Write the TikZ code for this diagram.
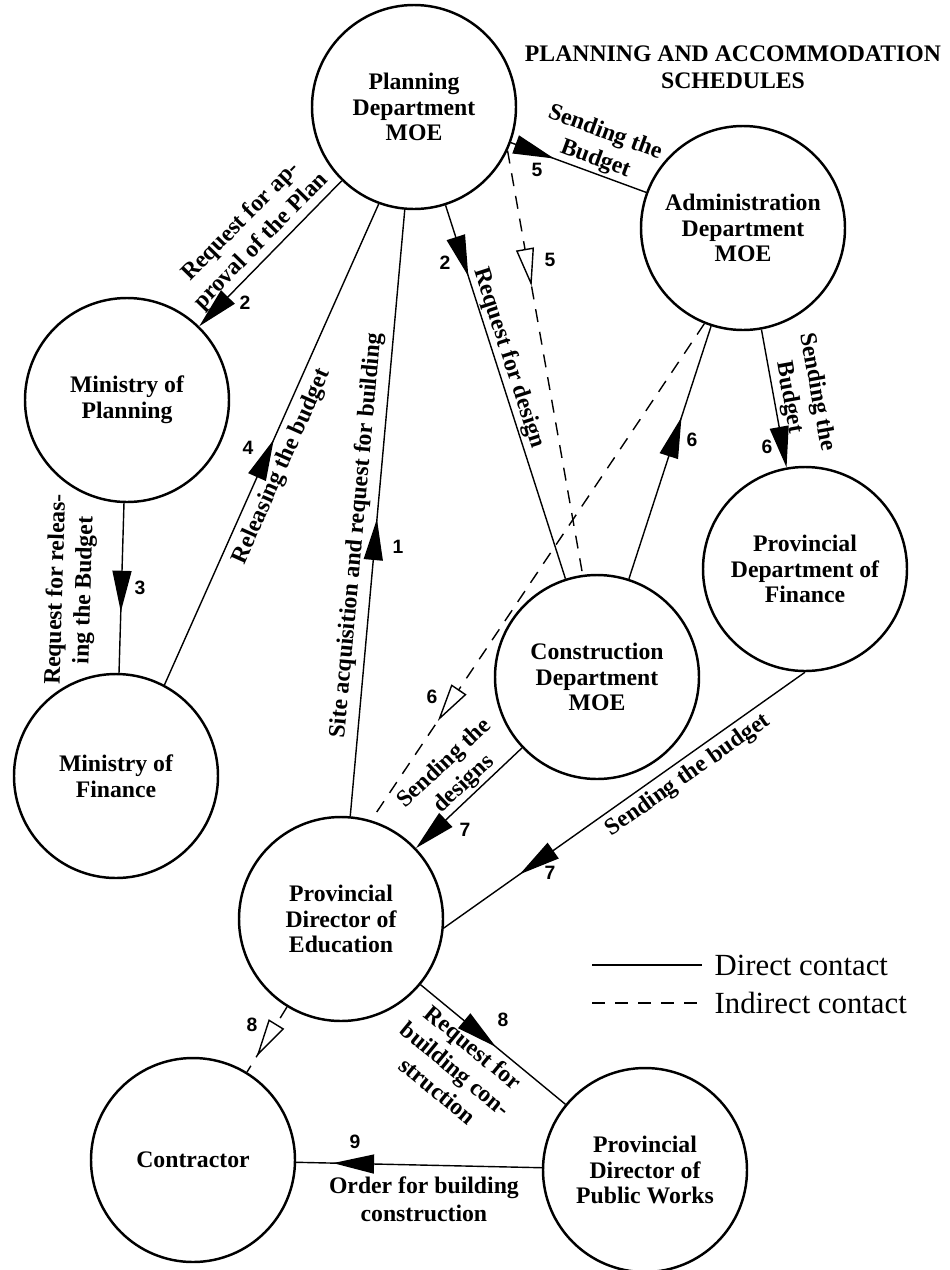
\documentclass[tikz,border=0pt]{standalone}
\usepackage{fontspec}
\setmainfont{Liberation Serif}
\newfontfamily\digitfont{Liberation Sans}
\usetikzlibrary{arrows.meta,decorations.markings}

\tikzset{
  office/.style={circle, draw, line width=1.4pt, minimum size=40.8mm, inner sep=0pt,
    align=center, font=\bfseries\fontsize{13.5}{14.6}\selectfont},
  direct/.style={line width=0.8pt},
  indirect/.style={line width=0.8pt, dash pattern=on 2.6mm off 2mm},
  endtip/.style={-{Triangle[length=8.2mm,width=3.8mm]}},
  midtip/.style={postaction={decorate}, decoration={markings,
    mark=at position #1 with {\arrow{Triangle[length=8.2mm,width=3.8mm]}}}},
  opentip/.style={postaction={decorate}, decoration={markings,
    mark=at position #1 with {\arrow{Triangle[open,fill=white,length=7.6mm,width=3.6mm]}}}},
  lab/.style={align=center, inner sep=2pt, font=\bfseries\fontsize{13.5}{16}\selectfont},
  num/.style={inner sep=0pt, font=\digitfont\bfseries\fontsize{11}{11}\selectfont},
  key/.style={inner xsep=7pt, font=\fontsize{17.5}{20}\selectfont},
}

\begin{document}
\begin{tikzpicture}[x=0.2mm, y=-0.2mm]
  \useasboundingbox (0,0) rectangle (950,1270);
  % offices
  \node[office] (pd)   at (414,107)  {Planning\\Department\\MOE};
  \node[office] (mp)   at (127,400)  {Ministry of\\Planning};
  \node[office] (mf)   at (116,776)  {Ministry of\\Finance};
  \node[office] (ad)   at (743,228)  {Administration\\Department\\MOE};
  \node[office] (cd)   at (597,677)  {Construction\\Department\\MOE};
  \node[office] (pdf)  at (805,569)  {Provincial\\Department of\\Finance};
  \node[office] (pde)  at (341,919)  {Provincial\\Director of\\Education};
  \node[office] (con)  at (193,1160) {Contractor};
  \node[office] (pdpw) at (645,1170) {Provincial\\Director of\\Public Works};
  % title
  \node[lab, font=\bfseries\fontsize{13.5}{15.4}\selectfont] (title) at (733,67)
    {PLANNING AND ACCOMMODATION\\SCHEDULES};
  % legend
  \node[key, anchor=west] (directkey) at (702,965) {Direct contact};
  \node[key, anchor=west] (indirectkey) at (702,1003) {Indirect contact};
  \coordinate (directend) at (592,965);
  \coordinate (indirectend) at (592,1003);
  \draw[direct] (directend) -- (directkey.west);
  \draw[indirect] (indirectend) -- (indirectkey.west);
  % direct contacts
  \draw[direct, midtip=0.49] (pde) -- node[lab, sloped, above, pos=0.46, inner ysep=4pt] (site)
    {Site acquisition and request for building} (pd);
  \draw[direct, endtip] (pd) -- node[lab, sloped, above, pos=0.49] (approval)
    {Request for ap-\\proval of the Plan} (mp);
  \draw[direct, midtip=0.19] (pd) -- node[lab, sloped, above, pos=0.42, inner ysep=1pt] (design)
    {Request for design} (cd);
  \draw[direct, midtip=0.64] (mp) -- node[lab, sloped, above, pos=0.52, inner ysep=5mm] (release)
    {Request for releas-\\ing the Budget} (mf);
  \draw[direct, midtip=0.51] (mf.62) -- node[lab, sloped, below, pos=0.47, inner ysep=4pt] (released)
    {Releasing the budget} (pd.-110);
  \draw[direct, midtip=0.32] (pd) -- node[lab, sloped, above, pos=0.59, inner ysep=1pt] (budgetad)
    {Sending the\\Budget} (ad);
  \draw[direct, midtip=0.64] (cd) -- (ad);
  \draw[direct, endtip] (ad) -- node[lab, sloped, above, pos=0.51] (budgetpdf)
    {Sending the\\Budget} (pdf);
  \draw[direct, endtip] (cd) -- node[lab, sloped, above, pos=0.46, inner ysep=1pt] (designs)
    {Sending the\\designs} (pde);
  \draw[direct, midtip=0.79] (pdf.-90) -- node[lab, sloped, below, pos=0.35, inner ysep=3pt] (budgetpde)
    {Sending the budget} (pde.-5);
  \draw[direct, midtip=0.52] (pde) -- node[lab, sloped, below, pos=0.43, inner ysep=3pt] (construct)
    {Request for\\building con-\\struction} (pdpw);
  \draw[direct, midtip=0.85] (pdpw) -- node[lab, below, pos=0.48, inner ysep=6pt] (order)
    {Order for building\\construction} (con);
  % indirect contacts
  \draw[indirect, opentip=0.32] (pd.-25) -- (cd.98);
  \draw[indirect, opentip=0.80] (ad.-112) -- (pde.73);
  \draw[indirect, opentip=0.76] (pde) -- (con);
  % step numbers
  \foreach \x/\y/\n [count=\i] in {398/547/1, 245/303/2, 445/263/2, 140/588/3,
      248/448/4, 537/170/5, 550/260/5, 692/440/6, 767/447/6, 432/697/6,
      465/830/7, 550/873/7, 503/1020/8, 252/1025/8, 355/1142/9}
    \node[num] (step\i) at (\x,\y) {\n};
\end{tikzpicture}
\end{document}
